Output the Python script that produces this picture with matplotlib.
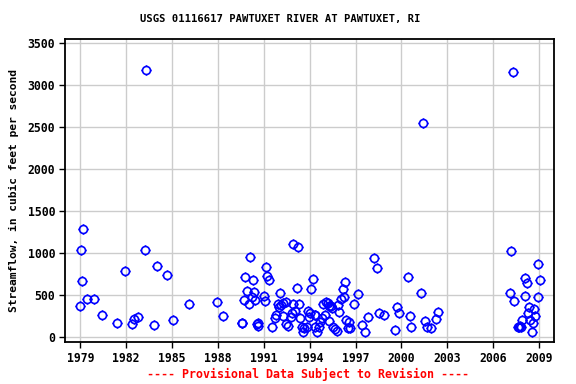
import matplotlib
matplotlib.use("Agg")
import matplotlib.pyplot as plt
from matplotlib.path import Path
import numpy as np

title = "USGS 01116617 PAWTUXET RIVER AT PAWTUXET, RI"
ylabel = "Streamflow, in cubic feet per second"
footer = "---- Provisional Data Subject to Revision ----"

years = [1983.29, 1979.17, 1979.04, 1979.10, 1978.97, 1979.43, 1979.89, 1980.41, 1981.39, 1981.94,
         1982.37, 1982.50, 1982.79, 1983.22, 1984.05, 1984.64, 1983.81, 1985.05, 1986.10, 1987.93,
         1988.32, 1989.59, 1989.55, 1990.08, 1989.80, 1990.28, 1989.89, 1990.33, 1989.74, 1990.05,
         1990.41, 1990.20, 1990.57, 1990.65, 1990.62, 1991.13, 1991.22, 1991.33, 1991.00, 1991.07,
         1991.52, 1991.72, 1991.81, 1992.05, 1991.90, 1991.98, 1992.16, 1992.29, 1992.44, 1992.29,
         1992.46, 1992.59, 1992.79, 1992.90, 1992.94, 1993.22, 1993.16, 1993.03, 1993.29, 1993.40,
         1993.48, 1993.61, 1993.55, 1993.84, 1993.88, 1994.05, 1993.99, 1994.20, 1994.12, 1994.33,
         1994.38, 1994.49, 1994.59, 1994.71, 1994.82, 1994.90, 1995.03, 1995.18, 1995.25, 1995.29,
         1995.47, 1995.56, 1995.69, 1995.77, 1995.84, 1995.95, 1996.06, 1996.16, 1996.29, 1996.23,
         1996.39, 1996.54, 1996.58, 1996.67, 1996.88, 1997.19, 1997.41, 1997.60, 1997.80, 1998.19,
         1998.43, 1998.56, 1998.84, 1999.56, 1999.69, 1999.82, 2000.44, 2000.54, 2000.61, 2001.26,
         2001.44, 2001.52, 2001.65, 2001.91, 2002.24, 2002.42, 2007.30, 2007.15, 2008.91, 2008.10,
         2008.19, 2009.04, 2007.08, 2007.34, 2008.06, 2008.91, 2008.32, 2008.65, 2008.25, 2008.77,
         2007.89, 2008.43, 2008.61, 2007.60, 2007.68, 2007.75, 2007.83, 2008.52,
         1992.83, 1995.40, 1995.10, 1994.36]
flows = [3178, 1286, 1036, 670, 369, 456, 456, 262, 167, 789,
         155, 218, 242, 1036, 849, 738, 143, 206, 396, 420,
         250, 174, 165, 952, 714, 678, 551, 539, 444, 396,
         444, 476, 158, 134, 165, 833, 726, 686, 488, 432,
         123, 226, 265, 524, 396, 364, 381, 405, 420, 254,
         158, 134, 245, 393, 1107, 1075, 583, 317, 393, 230,
         126, 107, 67, 119, 313, 293, 245, 690, 571, 265,
         126, 67, 126, 186, 226, 396, 265, 405, 372, 194,
         345, 126, 95, 79, 384, 297, 452, 575, 654, 483,
         206, 111, 186, 111, 393, 512, 143, 60, 238, 940,
         821, 286, 262, 83, 357, 286, 714, 250, 123, 524,
         2547, 194, 123, 111, 214, 297, 3154, 1023, 869, 706,
         643, 682, 524, 428, 491, 480, 357, 333, 293, 253,
         206, 202, 167, 119, 123, 131, 119, 67,
         286, 372, 424, 262]

xticks = [1979, 1982, 1985, 1988, 1991, 1994, 1997, 2000, 2003, 2006, 2009]
yticks = [0, 500, 1000, 1500, 2000, 2500, 3000, 3500]

# circle marker with small pips
circ = Path.unit_circle()
pips = Path([(0, 1), (0, 1.25), (0, -1), (0, -1.25), (1, 0), (1.25, 0), (-1, 0), (-1.25, 0)],
            [Path.MOVETO, Path.LINETO] * 4)
marker = Path.make_compound_path(circ, pips)

font = "DejaVu Sans Mono"
fig = plt.figure(figsize=(5.76, 3.84), dpi=100)
ax = fig.add_axes([0.1128, 0.1086, 0.9623 - 0.1128, 0.8977 - 0.1086])

ax.plot(years, flows, linestyle="none", marker=marker, markersize=7.2,
        markerfacecolor="none", markeredgecolor="#0000ff", markeredgewidth=1.2)

ax.set_xlim(1978.0, 2010.0)
ax.set_ylim(-60, 3548)
ax.set_xticks(xticks)
ax.set_yticks(yticks)
ax.set_xticklabels([str(t) for t in xticks], fontfamily=font, fontweight="bold", fontsize=8.3)
ax.set_yticklabels([str(t) for t in yticks], fontfamily=font, fontweight="bold", fontsize=8.3)
ax.grid(True, color="#cccccc", linewidth=1.0)
ax.set_axisbelow(True)
ax.tick_params(direction="out", length=4, width=1, color="black", pad=3)
for s in ax.spines.values():
    s.set_linewidth(1.3)

ax.set_ylabel(ylabel, fontfamily=font, fontweight="bold", fontsize=8.1, labelpad=6)
fig.text(0.486, 0.951, title, ha="center", va="center", fontfamily=font, fontweight="bold", fontsize=7.6)
fig.text(0.535, 0.024, footer, ha="center", va="center", fontfamily=font, fontweight="bold",
         fontsize=8.4, color="#ff0000")

fig.savefig("out.png", dpi=100)
